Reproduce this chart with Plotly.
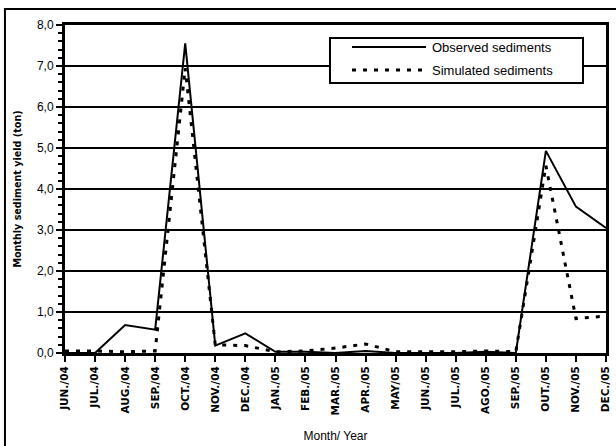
import plotly.graph_objects as go

months = ["JUN./04", "JUL./04", "AUG./04", "SEP./04", "OCT./04", "NOV./04", "DEC./04",
          "JAN./05", "FEB./05", "MAR./05", "APR./05", "MAY/05", "JUN./05", "JUL./05",
          "AGO./05", "SEP./05", "OUT./05", "NOV./05", "DEC./05"]
observed = [0.0, 0.0, 0.68, 0.57, 7.55, 0.18, 0.48, 0.03, 0.03, 0.0, 0.05, 0.0, 0.0, 0.0,
            0.03, 0.0, 4.93, 3.57, 3.05]
simulated = [0.05, 0.05, 0.03, 0.05, 6.95, 0.2, 0.18, 0.03, 0.05, 0.12, 0.22, 0.03, 0.03, 0.03,
             0.05, 0.03, 4.57, 0.84, 0.9]
y_ticks = [0, 1, 2, 3, 4, 5, 6, 7, 8]
series_names = ["Observed sediments", "Simulated sediments"]

obs_line = dict(color="black", width=2)
sim_line = dict(color="black", width=3, dash="4px,7px")

fig = go.Figure()
fig.add_trace(go.Scatter(x=months, y=observed, mode="lines", name=series_names[0],
                         line=obs_line, showlegend=False))
fig.add_trace(go.Scatter(x=months, y=simulated, mode="lines", name=series_names[1],
                         line=sim_line, showlegend=False))

# manual legend (box, line samples, labels) in paper coordinates
legend_font = dict(family="Liberation Sans, Arial", size=13, color="black")
shapes = [
    dict(type="rect", xref="paper", yref="paper", x0=-0.111, x1=1.05, y0=-0.3, y1=1.049,
         line=dict(color="black", width=2), fillcolor="rgba(0,0,0,0)", layer="below"),
    dict(type="rect", xref="paper", yref="paper", x0=0.4898, x1=0.9575, y0=0.8232, y1=0.9604,
         line=dict(color="black", width=2), fillcolor="white", layer="above"),
    dict(type="line", xref="paper", yref="paper", x0=0.5305, x1=0.6673, y0=0.9329, y1=0.9329,
         line=obs_line, layer="above"),
    dict(type="line", xref="paper", yref="paper", x0=0.5305, x1=0.6673, y0=0.8628, y1=0.8628,
         line=sim_line, layer="above"),
]
annotations = [
    dict(xref="paper", yref="paper", x=0.6747, y=0.9329, xanchor="left", yanchor="middle",
         text=series_names[0], showarrow=False, font=legend_font),
    dict(xref="paper", yref="paper", x=0.6747, y=0.8628, xanchor="left", yanchor="middle",
         text=series_names[1], showarrow=False, font=legend_font),
]

fig.update_layout(
    width=616, height=446,
    margin=dict(l=65, r=10, t=25, b=93),
    paper_bgcolor="white", plot_bgcolor="white",
    separators=",.",
    showlegend=False,
    xaxis=dict(type="category", range=[0, 18], tickmode="array", tickvals=months,
               ticktext=["<b>%s</b>" % m for m in months], tickangle=-90,
               ticks="outside", ticklen=6, tickwidth=2, tickcolor="black",
               showline=True, linecolor="black", linewidth=3, mirror=True,
               showgrid=False, zeroline=False, automargin=False,
               tickfont=dict(family="DejaVu Sans", size=10.5, color="black"),
               title=dict(text="Month/ Year", standoff=18,
                          font=dict(family="Liberation Sans, Arial", size=12, color="black"))),
    yaxis=dict(range=[0, 8], tickmode="array", tickvals=y_ticks,
               tickformat=".1f", ticks="outside", ticklen=6, tickwidth=2, tickcolor="black",
               showline=True, linecolor="black", linewidth=3, mirror=True,
               showgrid=True, gridcolor="black", gridwidth=2, zeroline=False, automargin=False,
               minor=dict(dtick=0.2, ticks="outside", ticklen=4, tickwidth=1.5,
                          tickcolor="black", showgrid=False),
               tickfont=dict(family="Liberation Sans, Arial", size=12, color="black"),
               title=dict(text="<b>Monthly sediment yield (ton)</b>", standoff=14,
                          font=dict(family="DejaVu Sans", size=9.6, color="black"))),
    shapes=shapes,
    annotations=annotations,
)

fig.write_html("out.html")
